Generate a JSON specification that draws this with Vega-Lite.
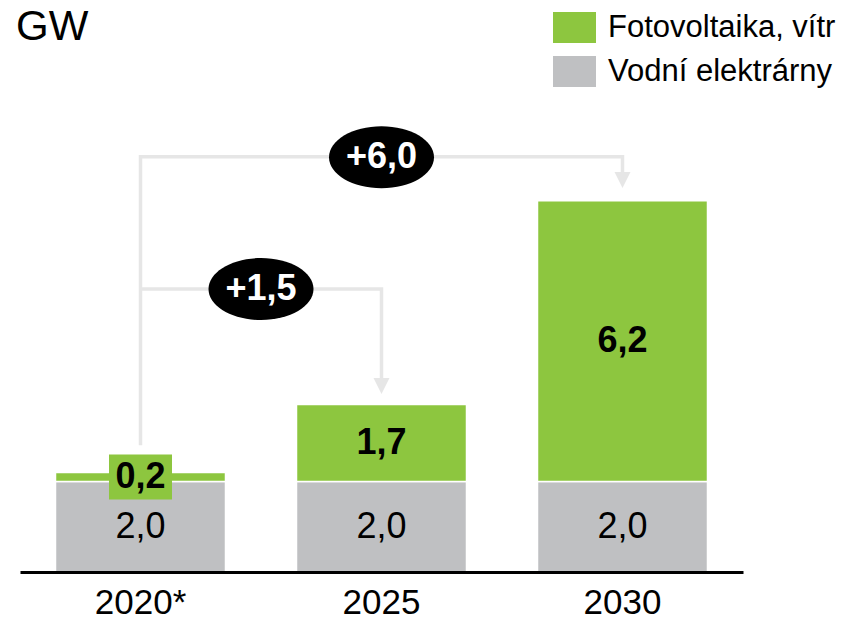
{
  "$schema": "https://vega.github.io/schema/vega-lite/v6.json",
  "width": 723,
  "height": 498,
  "autosize": {"type": "none"},
  "padding": {"left": 20, "right": 103, "top": 74, "bottom": 51},
  "background": "white",
  "title": {
    "text": "GW",
    "anchor": "start",
    "frame": "group",
    "orient": "top",
    "baseline": "alphabetic",
    "offset": 31,
    "dx": -4,
    "dy": 107,
    "fontSize": 42,
    "fontWeight": "normal",
    "font": "Liberation Sans",
    "color": "black"
  },
  "config": {
    "locale": {"number": {"decimal": ",", "thousands": " ", "grouping": [3], "currency": ["", " Kč"]}},
    "view": {"stroke": null},
    "font": "Liberation Sans"
  },
  "datasets": {
    "kapacity": [
      {"rok": "2020*", "typ": "Vodní elektrárny", "GW": 2.0},
      {"rok": "2020*", "typ": "Fotovoltaika, vítr", "GW": 0.2},
      {"rok": "2025", "typ": "Vodní elektrárny", "GW": 2.0},
      {"rok": "2025", "typ": "Fotovoltaika, vítr", "GW": 1.7},
      {"rok": "2030", "typ": "Vodní elektrárny", "GW": 2.0},
      {"rok": "2030", "typ": "Fotovoltaika, vítr", "GW": 6.2}
    ],
    "spojnice": [
      {"cesta": "2030", "krok": 1, "pozice": 0, "GW": 2.8},
      {"cesta": "2030", "krok": 2, "pozice": 0, "GW": 9.17},
      {"cesta": "2030", "krok": 3, "pozice": 2, "GW": 9.17},
      {"cesta": "2030", "krok": 4, "pozice": 2, "GW": 8.66},
      {"cesta": "2025", "krok": 1, "pozice": 0, "GW": 6.25},
      {"cesta": "2025", "krok": 2, "pozice": 1, "GW": 6.25},
      {"cesta": "2025", "krok": 3, "pozice": 1, "GW": 4.11}
    ],
    "sipky": [
      {"cesta": "2030", "pozice": 2, "GW": 8.48},
      {"cesta": "2025", "pozice": 1, "GW": 3.93}
    ],
    "prirustky": [
      {"cesta": "2030", "pozice": 1, "GW": 9.16, "zmena": 6.0},
      {"cesta": "2025", "pozice": 0.5, "GW": 6.25, "zmena": 1.5}
    ]
  },
  "resolve": {"scale": {"x": "independent"}},
  "layer": [
    {
      "data": {"name": "kapacity"},
      "encoding": {
        "x": {
          "field": "rok",
          "type": "nominal",
          "sort": ["2020*", "2025", "2030"],
          "scale": {"paddingInner": 0.2946, "paddingOuter": 0.1473},
          "axis": {
            "title": null,
            "labelAngle": 0,
            "labelFontSize": 35,
            "labelColor": "black",
            "labelFont": "Liberation Sans",
            "labelPadding": 13,
            "ticks": false,
            "tickSize": 0,
            "domainColor": "black",
            "domainWidth": 3,
            "zindex": 1
          }
        }
      },
      "layer": [
        {
          "mark": {"type": "bar", "stroke": "white", "strokeWidth": 1.5},
          "encoding": {
            "y": {"field": "GW", "type": "quantitative", "stack": "zero", "scale": {"domain": [0, 11], "nice": false}, "axis": null},
            "order": {"field": "typ", "sort": "descending"},
            "color": {
              "field": "typ",
              "type": "nominal",
              "scale": {"domain": ["Fotovoltaika, vítr", "Vodní elektrárny"], "range": ["#8dc63f", "#bfc0c2"]},
              "legend": {
                "title": null,
                "orient": "none",
                "legendX": 533,
                "legendY": -68,
                "padding": 0,
                "symbolType": "M -1 -0.721 L 1 -0.721 L 1 0.721 L -1 0.721 Z",
                "symbolSize": 1849,
                "symbolStrokeWidth": 0,
                "symbolOpacity": 1,
                "labelFontSize": 31,
                "labelFont": "Liberation Sans",
                "labelColor": "black",
                "labelOffset": 12,
                "rowPadding": 6,
                "labelLimit": 400
              }
            }
          }
        },
        {
          "mark": {"type": "point", "shape": "M -1 -0.714 L 1 -0.714 L 1 0.714 L -1 0.714 Z", "size": 3969, "filled": true, "fill": "#8dc63f", "strokeWidth": 0},
          "encoding": {
            "y": {"field": "GW", "type": "quantitative", "stack": "zero", "bandPosition": 0.5},
            "order": {"field": "typ", "sort": "descending"},
            "opacity": {"condition": {"test": "datum.typ == 'Fotovoltaika, vítr' && datum.GW < 1", "value": 1}, "value": 0}
          }
        },
        {
          "mark": {"type": "text", "fontSize": 36, "font": "Liberation Sans", "color": "black", "baseline": "middle"},
          "encoding": {
            "y": {"field": "GW", "type": "quantitative", "stack": "zero", "bandPosition": 0.5},
            "order": {"field": "typ", "sort": "descending"},
            "text": {"condition": {"test": "datum.typ == 'Vodní elektrárny'", "field": "GW", "format": ".1f"}, "value": ""}
          }
        },
        {
          "mark": {"type": "text", "fontSize": 36, "font": "Liberation Sans", "fontWeight": "bold", "color": "black", "baseline": "middle"},
          "encoding": {
            "y": {"field": "GW", "type": "quantitative", "stack": "zero", "bandPosition": 0.5},
            "order": {"field": "typ", "sort": "descending"},
            "text": {"condition": {"test": "datum.typ == 'Fotovoltaika, vítr'", "field": "GW", "format": ".1f"}, "value": ""}
          }
        }
      ]
    },
    {
      "encoding": {
        "x": {"field": "pozice", "type": "quantitative", "scale": {"domain": [-0.5, 2.5], "nice": false, "zero": false}, "axis": null},
        "y": {"field": "GW", "type": "quantitative"}
      },
      "layer": [
        {
          "data": {"name": "spojnice"},
          "mark": {"type": "line", "color": "#e6e6e6", "strokeWidth": 3.5, "strokeCap": "butt", "strokeJoin": "miter"},
          "encoding": {
            "detail": {"field": "cesta"},
            "order": {"field": "krok", "type": "quantitative"}
          }
        },
        {
          "data": {"name": "sipky"},
          "mark": {"type": "point", "shape": "M -1 -2 L 1 -2 L 0 0 Z", "size": 256, "filled": true, "fill": "#e6e6e6", "opacity": 1, "strokeWidth": 0}
        },
        {
          "data": {"name": "prirustky"},
          "mark": {"type": "point", "shape": "M -1 0 C -1 -0.3258 -0.5523 -0.59 0 -0.59 C 0.5523 -0.59 1 -0.3258 1 0 C 1 0.3258 0.5523 0.59 0 0.59 C -0.5523 0.59 -1 0.3258 -1 0 Z", "size": 11025, "filled": true, "fill": "black", "opacity": 1, "strokeWidth": 0}
        },
        {
          "data": {"name": "prirustky"},
          "mark": {"type": "text", "fontSize": 36, "font": "Liberation Sans", "fontWeight": "bold", "color": "white", "baseline": "middle"},
          "encoding": {
            "text": {"field": "zmena", "type": "quantitative", "format": "+.1f"}
          }
        }
      ]
    }
  ]
}
